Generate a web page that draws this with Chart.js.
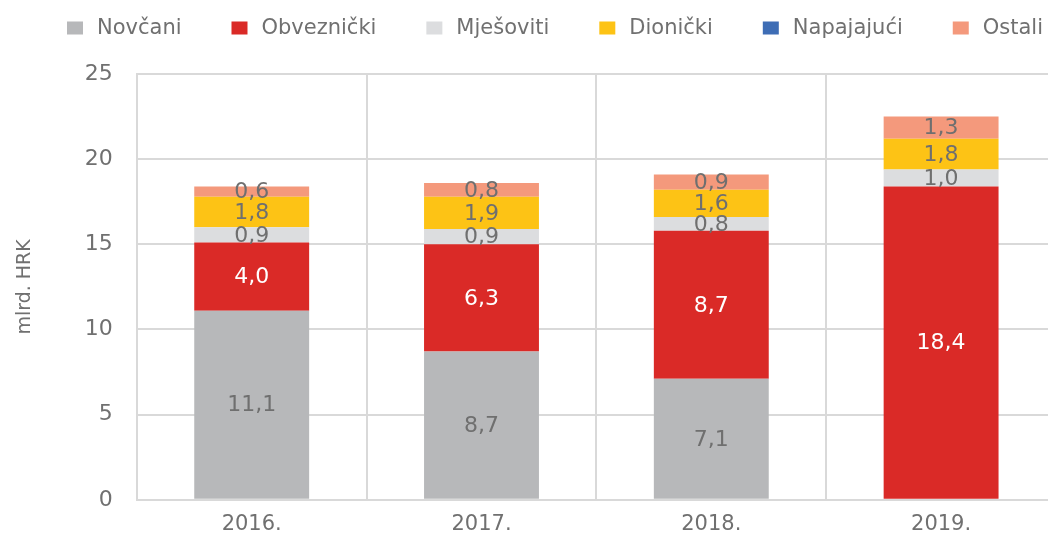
<!DOCTYPE html>
<html>
<head>
<meta charset="utf-8">
<script src="https://cdn.jsdelivr.net/npm/chart.js@4"></script>
<style>
  html, body { margin: 0; padding: 0; background: #fff; overflow: hidden; }
  #wrap { position: relative; width: 1056px; height: 540px; }
</style>
</head>
<body>
<div id="wrap"><canvas id="barChart"></canvas></div>
<script>
var years = ['2016.', '2017.', '2018.', '2019.'];
var novcani = [11.1, 8.7, 7.1, 0];
var obveznicki = [4.0, 6.3, 8.7, 18.4];
var mjesoviti = [0.9, 0.9, 0.8, 1.0];
var dionicki = [1.8, 1.9, 1.6, 1.8];
var napajajuci = [0, 0, 0, 0];
var ostali = [0.6, 0.8, 0.9, 1.3];
var yTicks = [0, 5, 10, 15, 20, 25];

var fontFamily = "'DejaVu Sans', sans-serif";
var textGray = '#707070';

// draws the value inside each segment
var segmentLabels = {
  id: 'segmentLabels',
  afterDatasetsDraw: function(chart) {
    var ctx = chart.ctx;
    ctx.save();
    ctx.font = '22px ' + fontFamily;
    ctx.textAlign = 'center';
    ctx.textBaseline = 'middle';
    chart.data.datasets.forEach(function(ds, i) {
      var meta = chart.getDatasetMeta(i);
      meta.data.forEach(function(bar, j) {
        var v = ds.data[j];
        if (!v) return;
        ctx.fillStyle = ds.labelColor;
        ctx.fillText(v.toFixed(1).replace('.', ','), bar.x, (bar.y + bar.base) / 2 + 1);
      });
    });
    ctx.restore();
  }
};

// legend spread across the top like the original
var spreadLegend = {
  id: 'spreadLegend',
  afterDraw: function(chart) {
    var ctx = chart.ctx;
    var left = 67, right = 1043, y = 28, boxW = 16, boxH = 13, gapText = 14;
    ctx.save();
    ctx.font = '21px ' + fontFamily;
    ctx.textBaseline = 'middle';
    var items = chart.data.datasets.map(function(ds) {
      return { text: ds.label, color: ds.backgroundColor, w: boxW + gapText + ctx.measureText(ds.label).width };
    });
    var total = items.reduce(function(s, it) { return s + it.w; }, 0);
    var gap = (right - left - total) / (items.length - 1);
    var x = left;
    items.forEach(function(it) {
      ctx.fillStyle = it.color;
      ctx.fillRect(x, y - boxH / 2, boxW, boxH);
      ctx.fillStyle = textGray;
      ctx.fillText(it.text, x + boxW + gapText, y + 1);
      x += it.w + gap;
    });
    ctx.restore();
  }
};

var ctx = document.getElementById('barChart').getContext('2d');
var barChart = new Chart(ctx, {
  type: 'bar',
  data: {
    labels: years,
    datasets: [
      { label: 'Novčani', data: novcani, backgroundColor: '#b7b8ba', labelColor: '#6f6f6f' },
      { label: 'Obveznički', data: obveznicki, backgroundColor: '#da2a27', labelColor: '#ffffff' },
      { label: 'Mješoviti', data: mjesoviti, backgroundColor: '#dcdddf', labelColor: '#6f6f6f' },
      { label: 'Dionički', data: dionicki, backgroundColor: '#fdc315', labelColor: '#6f6f6f' },
      { label: 'Napajajući', data: napajajuci, backgroundColor: '#3e6db5', labelColor: '#ffffff' },
      { label: 'Ostali', data: ostali, backgroundColor: '#f4997c', labelColor: '#6f6f6f' }
    ]
  },
  options: {
    responsive: true,
    maintainAspectRatio: false,
    animation: false,
    layout: { padding: { left: 10, right: 0, top: 74, bottom: -9 } },
    datasets: {
      bar: { barPercentage: 0.5, categoryPercentage: 1.0, borderWidth: 0 }
    },
    scales: {
      x: {
        stacked: true,
        grid: { display: true, offset: true, color: '#d9d9d9', lineWidth: 2, drawTicks: false },
        border: { color: '#d9d9d9', width: 2 },
        ticks: { color: textGray, font: { family: fontFamily, size: 21 }, padding: 12 }
      },
      y: {
        stacked: true,
        min: 0,
        max: 25,
        afterBuildTicks: function(axis) {
          axis.ticks = yTicks.map(function(v) { return { value: v }; });
        },
        grid: { color: '#d9d9d9', lineWidth: 2, drawTicks: false },
        border: { color: '#d9d9d9', width: 2 },
        ticks: { color: textGray, font: { family: fontFamily, size: 22 }, padding: 24 },
        title: { display: true, text: 'mlrd. HRK', color: textGray, font: { family: fontFamily, size: 19 }, padding: { bottom: 24 } }
      }
    },
    plugins: {
      legend: { display: false },
      tooltip: { enabled: false }
    }
  },
  plugins: [segmentLabels, spreadLegend]
});
</script>
</body>
</html>
